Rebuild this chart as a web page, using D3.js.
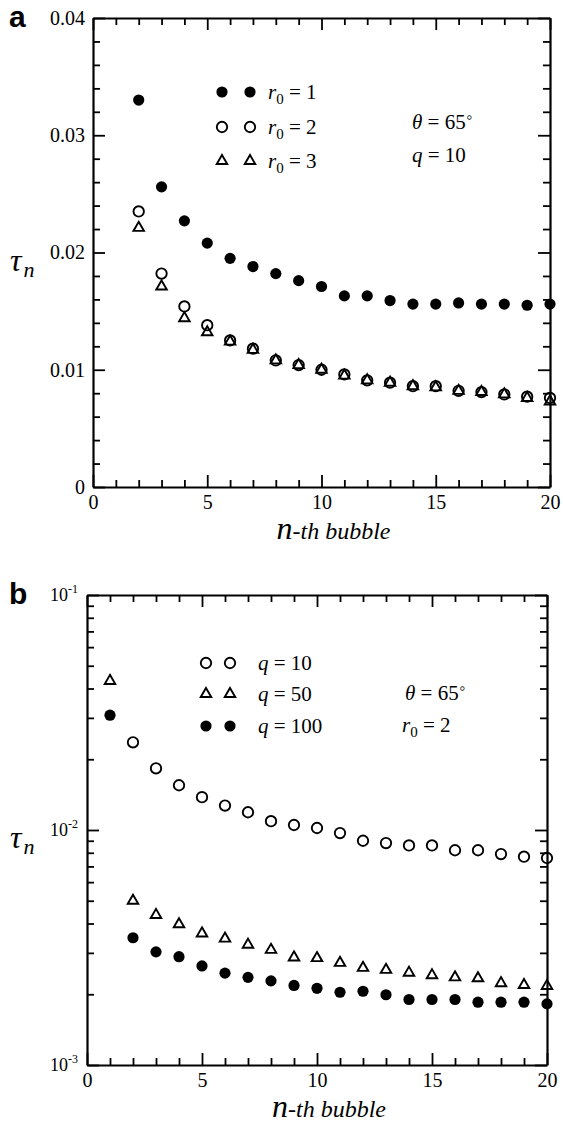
<!DOCTYPE html>
<html>
<head>
<meta charset="utf-8">
<script src="https://cdn.jsdelivr.net/npm/d3@7"></script>
<style>
  body { margin: 0; background: #fff; }
  svg text { fill: #000; }
</style>
</head>
<body>
<svg id="chart" width="563" height="1123"></svg>
<script>
/**
 * Data, panel a (q = 10, theta = 65 deg).
 */
const bubblesA = [2, 3, 4, 5, 6, 7, 8, 9, 10, 11, 12, 13, 14, 15, 16, 17, 18, 19, 20];
const tauR1 = [0.0330, 0.0256, 0.0227, 0.0208, 0.0195, 0.0188, 0.0182, 0.0176, 0.0171, 0.0163,
               0.0163, 0.0159, 0.0156, 0.0156, 0.0157, 0.0156, 0.0156, 0.0155, 0.0156];
const tauR2 = [0.0235, 0.0182, 0.0154, 0.0138, 0.0125, 0.0118, 0.0108, 0.0104, 0.0100, 0.0096,
               0.0091, 0.0089, 0.0086, 0.0086, 0.0082, 0.0081, 0.0079, 0.0077, 0.0076];
const tauR3 = [0.0221, 0.0171, 0.0144, 0.0132, 0.0124, 0.0117, 0.0108, 0.0104, 0.0100, 0.0095,
               0.0091, 0.0089, 0.0086, 0.0085, 0.0082, 0.0081, 0.0079, 0.0076, 0.0073];

/**
 * Data, panel b (r0 = 2, theta = 65 deg).
 */
const bubblesB = [1, 2, 3, 4, 5, 6, 7, 8, 9, 10, 11, 12, 13, 14, 15, 16, 17, 18, 19, 20];
const tauQ10 = [0.0236, 0.0183, 0.0155, 0.0138, 0.0127, 0.0119, 0.0109, 0.0105, 0.0102, 0.0097,
                0.0090, 0.0088, 0.0086, 0.0086, 0.0082, 0.0082, 0.0079, 0.0077, 0.0076];
const tauQ50 = [0.0431, 0.00500, 0.00435, 0.00397, 0.00363, 0.00345, 0.00325, 0.00309, 0.00287, 0.00285,
                0.00272, 0.00259, 0.00254, 0.00247, 0.00241, 0.00236, 0.00234, 0.00223, 0.00219, 0.00217];
const tauQ100 = [0.0308, 0.00348, 0.00303, 0.00289, 0.00264, 0.00246, 0.00236, 0.00228, 0.00218, 0.00212,
                 0.00204, 0.00206, 0.00199, 0.00190, 0.00190, 0.00190, 0.00185, 0.00185, 0.00185, 0.00182];

/**
 * Ticks.
 */
const xMajor = [0, 5, 10, 15, 20];
const xMinor = [1, 2, 3, 4, 6, 7, 8, 9, 11, 12, 13, 14, 16, 17, 18, 19];
const yMajorA = [0, 0.01, 0.02, 0.03, 0.04];
const yMajorALabels = ['0', '0.01', '0.02', '0.03', '0.04'];
const yMinorA = [0.002, 0.004, 0.006, 0.008, 0.012, 0.014, 0.016, 0.018,
                 0.022, 0.024, 0.026, 0.028, 0.032, 0.034, 0.036, 0.038];
const yMajorB = [0.001, 0.01, 0.1];
const yMajorBExp = ['-3', '-2', '-1'];
const yMinorB = [0.002, 0.003, 0.004, 0.005, 0.006, 0.007, 0.008, 0.009,
                 0.02, 0.03, 0.04, 0.05, 0.06, 0.07, 0.08, 0.09];

const svg = d3.select('#chart');
const serif = 'Tinos, "Liberation Serif", "Nimbus Roman", "Noto Serif", FreeSerif, "DejaVu Serif", "Liberation Sans", serif';
const majorLen = 12, minorLen = 7;

/**
 * Draws the framed axes of one panel; returns the x scale.
 */
function drawFrame(g, box, y, yMajor, yMinor, yFormat) {
    const x = d3.scaleLinear().domain([0, 20]).range([box.left, box.right]);

    const axes = [
        { gen: d3.axisBottom(x), at: [0, box.bottom], major: xMajor, minor: xMinor, fmt: d3.format('d') },
        { gen: d3.axisTop(x), at: [0, box.top], major: xMajor, minor: xMinor, fmt: () => '' },
        { gen: d3.axisLeft(y), at: [box.left, 0], major: yMajor, minor: yMinor, fmt: yFormat },
        { gen: d3.axisRight(y), at: [box.right, 0], major: yMajor, minor: yMinor, fmt: () => '' }
    ];

    axes.forEach(a => {
        const major = g.append('g')
            .attr('transform', 'translate(' + a.at[0] + ',' + a.at[1] + ')')
            .call(a.gen.tickValues(a.major).tickFormat(a.fmt).tickSize(-majorLen).tickSizeOuter(0).tickPadding(8));
        const minor = g.append('g')
            .attr('transform', 'translate(' + a.at[0] + ',' + a.at[1] + ')')
            .call(a.gen.tickValues(a.minor).tickFormat(() => '').tickSize(-minorLen).tickSizeOuter(0));
        minor.select('.domain').remove();
        [major, minor].forEach(s => {
            s.attr('font-family', serif);
            s.selectAll('line').attr('stroke', '#000').attr('stroke-width', 1.8);
            s.select('.domain').attr('stroke', '#000').attr('stroke-width', 2.2);
            s.selectAll('text').attr('font-family', serif).attr('font-size', 20).attr('fill', '#000');
        });
    });
    return x;
}

/**
 * Marker drawing.
 */
const tri = d3.symbol().type(d3.symbolTriangle).size(48);

function markers(g, kind, pts) {
    if (kind === 'tri') {
        g.selectAll(null).data(pts).enter().append('path')
            .attr('d', tri)
            .attr('transform', d => 'translate(' + d[0] + ',' + d[1] + ')')
            .attr('fill', 'none').attr('stroke', '#000').attr('stroke-width', 1.9);
    } else {
        g.selectAll(null).data(pts).enter().append('circle')
            .attr('cx', d => d[0]).attr('cy', d => d[1])
            .attr('r', kind === 'fill' ? 5.6 : 5.2)
            .attr('fill', kind === 'fill' ? '#000' : 'none')
            .attr('stroke', kind === 'fill' ? 'none' : '#000').attr('stroke-width', 1.9);
    }
}

function series(g, x, y, ns, vals, kind) {
    markers(g, kind, ns.map((n, i) => [x(n), y(vals[i])]));
}

function label(g, x, y, size) {
    return g.append('text').attr('x', x).attr('y', y).attr('font-size', size).attr('font-family', serif);
}

/**
 * Legend row: two markers and a label built by fn(text).
 */
function legendRow(g, mx, cy, tx, kind, fn) {
    markers(g, kind, [[mx[0], cy], [mx[1], cy]]);
    fn(label(g, tx, cy + 7, 21));
}

function rLabel(t, v) {
    t.append('tspan').attr('font-style', 'italic').text('r');
    t.append('tspan').attr('font-size', 15).attr('dy', 5).text('0');
    t.append('tspan').attr('dy', -5).text(' = ' + v);
}
function qLabel(t, v) {
    t.append('tspan').attr('font-style', 'italic').text('q');
    t.append('tspan').text(' = ' + v);
}
function thetaLabel(t) {
    t.append('tspan').attr('font-style', 'italic').text('θ');
    t.append('tspan').text(' = 65');
    t.append('tspan').attr('font-size', 19).attr('dy', -7).text('∘');
}

function axisTitles(g, box, panel) {
    const cx = (box.left + box.right) / 2;
    const t = label(g, cx + 12, box.bottom + 52, 24)
        .attr('text-anchor', 'middle').attr('font-style', 'italic');
    t.append('tspan').attr('font-size', 32).text('n');
    t.append('tspan').text('-th bubble');

    const ylab = label(g, 10, (box.top + box.bottom) / 2 + 18, 32).attr('font-style', 'italic');
    ylab.append('tspan').text('τ');
    ylab.append('tspan').attr('font-size', 22).attr('dx', 2).attr('dy', 6).text('n');

    g.append('text').attr('x', 9).attr('y', box.top + 9)
        .attr('font-family', '"Liberation Sans", Arial, sans-serif')
        .attr('font-weight', 'bold').attr('font-size', 30).text(panel);
}

/**
 * Panel a.
 */
const boxA = { left: 93, right: 550, top: 18, bottom: 487 };
const gA = svg.append('g');
const yA = d3.scaleLinear().domain([0, 0.04]).range([boxA.bottom, boxA.top]);
const xA = drawFrame(gA, boxA, yA, yMajorA, yMinorA, d => yMajorALabels[yMajorA.indexOf(d)]);
axisTitles(gA, boxA, 'a');

series(gA, xA, yA, bubblesA, tauR1, 'fill');
series(gA, xA, yA, bubblesA, tauR2, 'open');
series(gA, xA, yA, bubblesA, tauR3, 'tri');

const lmA = [boxA.left + 129, boxA.left + 157], ltA = boxA.left + 175;
legendRow(gA, lmA, boxA.top + 74, ltA, 'fill', t => rLabel(t, 1));
legendRow(gA, lmA, boxA.top + 109, ltA, 'open', t => rLabel(t, 2));
legendRow(gA, lmA, boxA.top + 143, ltA, 'tri', t => rLabel(t, 3));
thetaLabel(label(gA, boxA.left + 319, boxA.top + 111, 21));
qLabel(label(gA, boxA.left + 319, boxA.top + 144, 21), 10);

/**
 * Panel b.
 */
const boxB = { left: 87, right: 547, top: 595, bottom: 1065 };
const gB = svg.append('g');
const yB = d3.scaleLog().domain([0.001, 0.1]).range([boxB.bottom, boxB.top]);
const xB = drawFrame(gB, boxB, yB, yMajorB, yMinorB, () => '');

// Log labels as 10 with a superscript exponent
gB.selectAll(null).data(yMajorB).enter().append('text')
    .attr('x', boxB.left - 9).attr('y', d => yB(d) + 6)
    .attr('text-anchor', 'end').attr('font-size', 18).attr('font-family', serif)
    .each(function(d, i) {
        const t = d3.select(this);
        t.append('tspan').text('10');
        t.append('tspan').attr('font-size', 12).attr('dy', -8).text(yMajorBExp[i]);
    });
axisTitles(gB, boxB, 'b');

series(gB, xB, yB, bubblesB.slice(1), tauQ10, 'open');
series(gB, xB, yB, bubblesB, tauQ50, 'tri');
series(gB, xB, yB, bubblesB, tauQ100, 'fill');

const lmB = [boxB.left + 119, boxB.left + 143], ltB = boxB.left + 171;
legendRow(gB, lmB, boxB.top + 68, ltB, 'open', t => qLabel(t, 10));
legendRow(gB, lmB, boxB.top + 99, ltB, 'tri', t => qLabel(t, 50));
legendRow(gB, lmB, boxB.top + 131, ltB, 'fill', t => qLabel(t, 100));
thetaLabel(label(gB, boxB.left + 318, boxB.top + 105, 21));
rLabel(label(gB, boxB.left + 315, boxB.top + 137, 21), 2);
</script>
</body>
</html>
